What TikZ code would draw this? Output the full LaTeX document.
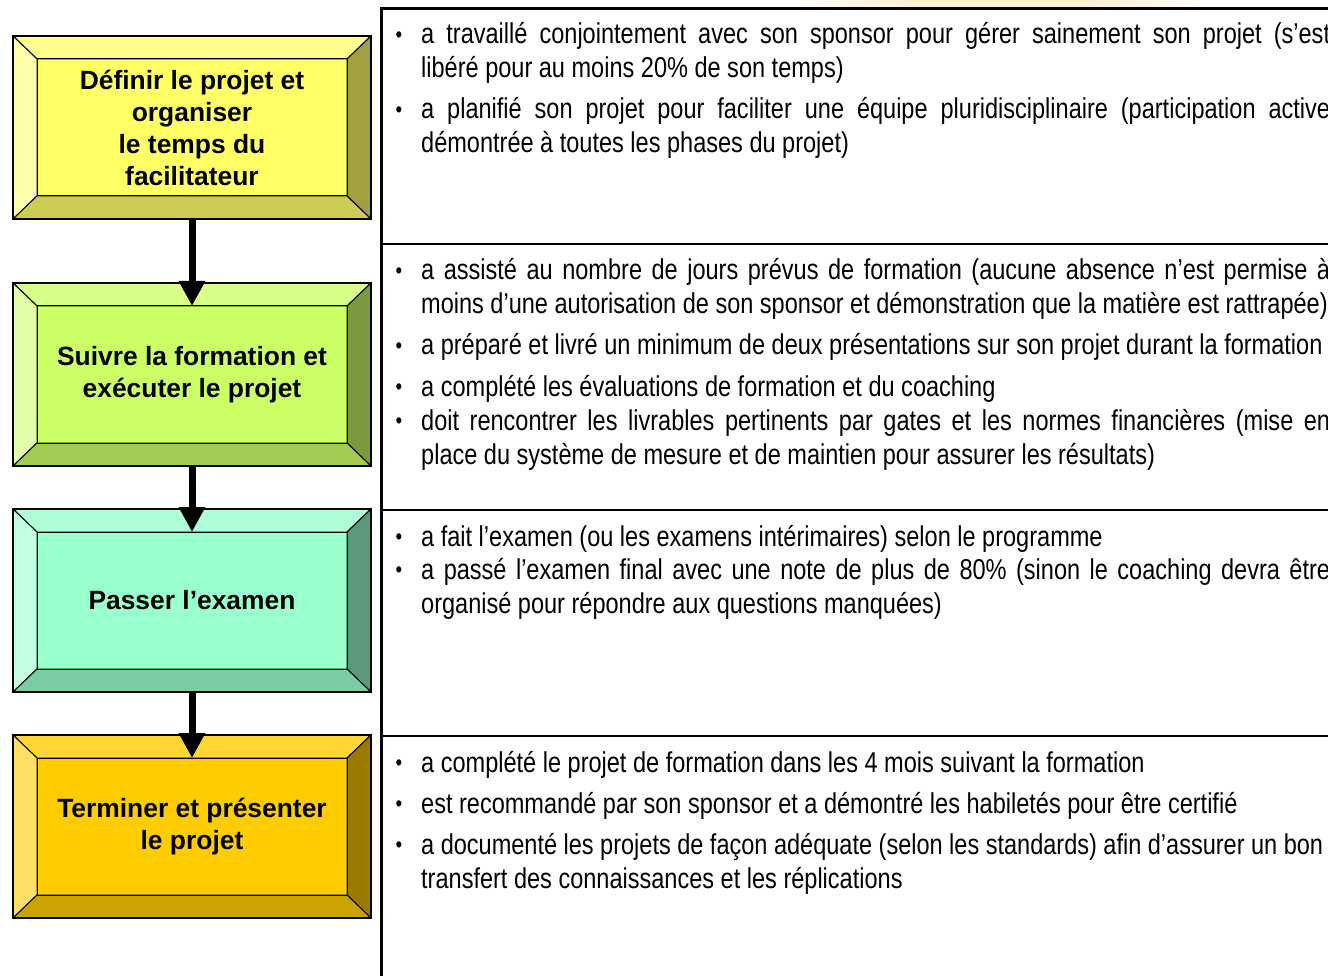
\documentclass[tikz,border=0pt]{standalone}
\usepackage{fontspec}
\setmainfont{Liberation Sans}
\newfontfamily\narrowfont{Liberation Sans}[FakeStretch=0.82]
\usetikzlibrary{arrows.meta}
\definecolor{faceA}{HTML}{FFFF66}\definecolor{topA}{HTML}{FFFF8C}\definecolor{leftA}{HTML}{FFFFAA}\definecolor{rightA}{HTML}{A0A040}\definecolor{botA}{HTML}{CCCC55}
\definecolor{faceB}{HTML}{CCFF66}\definecolor{topB}{HTML}{D8FF88}\definecolor{leftB}{HTML}{E0FFA6}\definecolor{rightB}{HTML}{7A9A3D}\definecolor{botB}{HTML}{A3CC52}
\definecolor{faceC}{HTML}{99FFCC}\definecolor{topC}{HTML}{AEFFD8}\definecolor{leftC}{HTML}{C2FFE2}\definecolor{rightC}{HTML}{5C997A}\definecolor{botC}{HTML}{7ACCA3}
\definecolor{faceD}{HTML}{FFCC00}\definecolor{topD}{HTML}{FFD633}\definecolor{leftD}{HTML}{FFE066}\definecolor{rightD}{HTML}{9A7A00}\definecolor{botD}{HTML}{CCA300}
\definecolor{glow}{RGB}{255,241,210}
\pgfdeclarehorizontalshading{glowsh}{100bp}{color(0bp)=(white); color(22bp)=(white); color(40bp)=(glow); color(60bp)=(glow); color(78bp)=(white); color(100bp)=(white)}
\newcommand\bodyfont{\narrowfont\fontsize{28.7}{34}\selectfont}
\newcommand\jline[2][909pt]{\makebox[#1][s]{#2}}
\newcommand\bevbox[8]{%
  \node[outerbox] (o#1) at (192,#2) {};
  \node[facebox, fill=#3] (f#1) at (o#1.center) {};
  \filldraw[fill=#4, bevedge] (o#1.north west) -- (o#1.north east) -- (f#1.north east) -- (f#1.north west) -- cycle;
  \filldraw[fill=#5, bevedge] (o#1.north west) -- (f#1.north west) -- (f#1.south west) -- (o#1.south west) -- cycle;
  \filldraw[fill=#6, bevedge] (o#1.north east) -- (f#1.north east) -- (f#1.south east) -- (o#1.south east) -- cycle;
  \filldraw[fill=#7, bevedge] (o#1.south west) -- (f#1.south west) -- (f#1.south east) -- (o#1.south east) -- cycle;
  \draw[bevedge] (f#1.north west) rectangle (f#1.south east);
  \draw[outerline] (o#1.north west) rectangle (o#1.south east);
  \node[boxlabel] (l#1) at (f#1.center) {#8};
}
\begin{document}
\begin{tikzpicture}[x=1pt,y=-1pt,
  outerbox/.style={minimum width=358pt, minimum height=183pt, inner sep=0pt, outer sep=0pt},
  facebox/.style={minimum width=310pt, minimum height=137pt, inner sep=0pt, outer sep=0pt},
  bevedge/.style={draw=black, line width=1pt, line join=miter},
  outerline/.style={draw=black, line width=1.6pt},
  boxlabel/.style={align=center, inner sep=0pt, font=\bfseries\fontsize{26.4}{32}\selectfont},
  flowarrow/.style={line width=7pt, -{Triangle[width=25pt,length=25pt]}},
  frame/.style={line width=3pt},
  sep/.style={line width=2pt},
  bul/.style={anchor=base, inner sep=0pt, yshift=1.5pt, font=\narrowfont\fontsize{23}{23}\selectfont},
  para/.style={anchor=base west, inner sep=0pt, font=\bodyfont}]
\useasboundingbox (0,0) rectangle (1328,976);
\clip (0,0) rectangle (1328,976);
\fill[white] (0,0) rectangle (1328,976);
% faint glow at top
\shade[shading=glowsh] (800,0) rectangle (1200,8);
% boxes
\bevbox{1}{127.5}{faceA}{topA}{leftA}{rightA}{botA}{Définir le projet et\\organiser\\le temps du\\facilitateur}
\bevbox{2}{374.5}{faceB}{topB}{leftB}{rightB}{botB}{Suivre la formation et\\exécuter le projet}
\bevbox{3}{600.5}{faceC}{topC}{leftC}{rightC}{botC}{Passer l’examen}
\bevbox{4}{826.5}{faceD}{topD}{leftD}{rightD}{botD}{Terminer et présenter\\le projet}
% arrows
\draw[flowarrow] (o1.south) -- (f2.north);
\draw[flowarrow] (o2.south) -- (f3.north);
\draw[flowarrow] (o3.south) -- (f4.north);
% right column frame
\coordinate (ftop) at (380,8.5);
\coordinate (ftopr) at (1330,8.5);
\coordinate (fvt) at (381.5,7);
\coordinate (fbot) at (381.5,980);
\draw[frame] (ftop) -- (ftopr);
\draw[frame] (fvt) -- (fbot);
\coordinate (s1l) at (381,244);\coordinate (s1r) at (1330,244);
\coordinate (s2l) at (381,509.5);\coordinate (s2r) at (1330,509.5);
\coordinate (s3l) at (381,735.5);\coordinate (s3r) at (1330,735.5);
\draw[sep] (s1l) -- (s1r);
\draw[sep] (s2l) -- (s2r);
\draw[sep] (s3l) -- (s3r);
% section 1
\node[bul] (b11) at (399,44) {•};
\node[para] (p11) at (421,44) {\parbox[t]{909pt}{\jline{a travaillé conjointement avec son sponsor pour gérer sainement son projet (s’est}\\libéré pour au moins 20\% de son temps)}};
\node[bul] (b12) at (399,119) {•};
\node[para] (p12) at (421,119) {\parbox[t]{909pt}{\jline{a planifié son projet pour faciliter une équipe pluridisciplinaire (participation active}\\démontrée à toutes les phases du projet)}};
% section 2
\node[bul] (b21) at (399,280) {•};
\node[para] (p21) at (421,280) {\parbox[t]{909pt}{\jline{a assisté au nombre de jours prévus de formation (aucune absence n’est permise à}\\moins d’une autorisation de son sponsor et démonstration que la matière est rattrapée)}};
\node[bul] (b22) at (399,355) {•};
\node[para] (p22) at (421,355) {a préparé et livré un minimum de deux présentations sur son projet durant la formation};
\node[bul] (b23) at (399,396) {•};
\node[para] (p23) at (421,396) {a complété les évaluations de formation et du coaching};
\node[bul] (b24) at (399,430) {•};
\node[para] (p24) at (421,430) {\parbox[t]{909pt}{\jline{doit rencontrer les livrables pertinents par gates et les normes financières (mise en}\\place du système de mesure et de maintien pour assurer les résultats)}};
% section 3
\node[bul] (b31) at (399,546) {•};
\node[para] (p31) at (421,546) {a fait l’examen (ou les examens intérimaires) selon le programme};
\node[bul] (b32) at (399,579) {•};
\node[para] (p32) at (421,579) {\parbox[t]{909pt}{\jline{a passé l’examen final avec une note de plus de 80\% (sinon le coaching devra être}\\organisé pour répondre aux questions manquées)}};
% section 4
\node[bul] (b41) at (399,772) {•};
\node[para] (p41) at (421,772) {a complété le projet de formation dans les 4 mois suivant la formation};
\node[bul] (b42) at (399,813) {•};
\node[para] (p42) at (421,813) {est recommandé par son sponsor et a démontré les habiletés pour être certifié};
\node[bul] (b43) at (399,854) {•};
\node[para] (p43) at (421,854) {\parbox[t]{909pt}{\jline[902pt]{a documenté les projets de façon adéquate (selon les standards) afin d’assurer un bon}\\transfert des connaissances et les réplications}};
\end{tikzpicture}
\end{document}
